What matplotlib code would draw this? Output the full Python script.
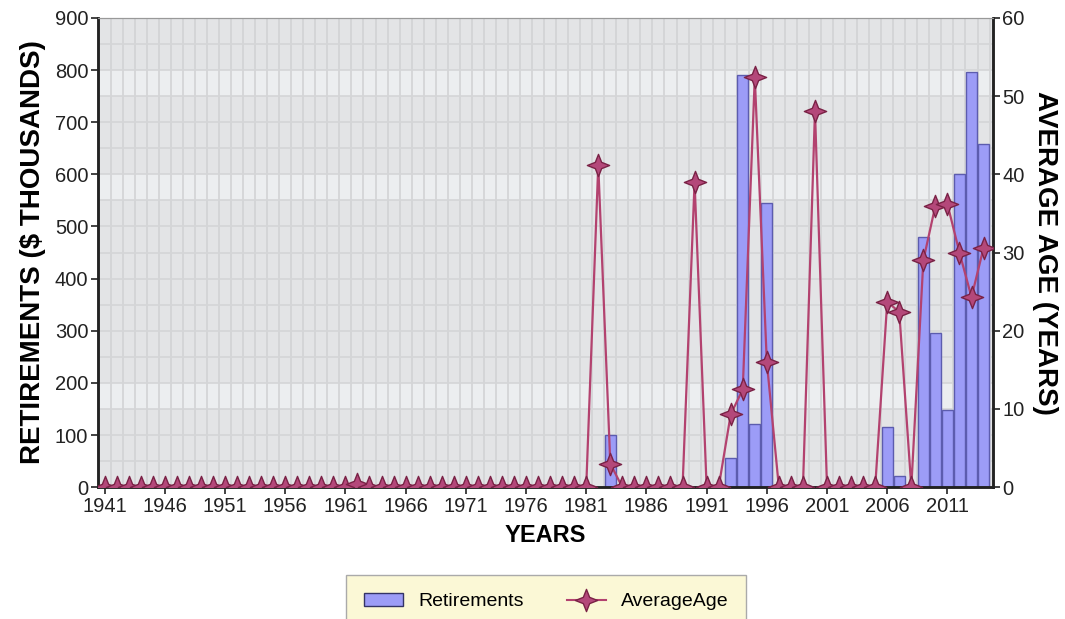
import numpy as np
import matplotlib
matplotlib.use('Agg')
import matplotlib.pyplot as plt
from matplotlib.path import Path

plt.rcParams['font.family'] = ['Liberation Sans', 'DejaVu Sans']

years = list(range(1941, 2015))

# retirements in $ thousands, only non-zero years listed
retire_years = [1983, 1993, 1994, 1995, 1996, 2006, 2007, 2009, 2010, 2011, 2012, 2013, 2014]
retire_vals = [100, 56, 790, 121, 545, 115, 22, 480, 295, 148, 600, 796, 658]

# average age in years, only non-zero years listed
age_years = [1962, 1982, 1983, 1990, 1993, 1994, 1995, 1996, 2000, 2006, 2007, 2009, 2010, 2011, 2012, 2013, 2014]
age_vals = [0.4, 41.2, 3.0, 39.0, 9.3, 12.5, 52.4, 16.0, 48.1, 23.7, 22.4, 29.0, 36.0, 36.2, 30.0, 24.3, 30.6]

retirements = [retire_vals[retire_years.index(y)] if y in retire_years else 0 for y in years]
avg_age = [age_vals[age_years.index(y)] if y in age_years else 0 for y in years]

# 4-pointed star marker
pts = []
for i in range(8):
    ang = np.pi / 2 + i * np.pi / 4
    r = 1.0 if i % 2 == 0 else 0.4
    pts.append((r * np.cos(ang), r * np.sin(ang)))
pts.append(pts[0])
codes = [Path.MOVETO] + [Path.LINETO] * 7 + [Path.CLOSEPOLY]
star = Path(pts, codes)

fig = plt.figure(figsize=(10.65, 6.19), dpi=100)
ax = fig.add_axes([0.092, 0.213, 0.84, 0.758])
ax.set_facecolor('#e3e4e6')

# background stripes / grid
for y in years:
    ax.axvline(y + 0.5, color='#d2d3d5', lw=1.2, zorder=0)
for v in range(50, 900, 50):
    ax.axhline(v, color='#d4d5d7', lw=1.2, zorder=0)
for lo in (750, 550, 150):
    ax.axhspan(lo, lo + 50, color='#eceef0', zorder=-1, lw=0)

ax.bar(years, retirements, width=0.92, color='#9c9cf7', edgecolor='#5c5cae', lw=1, zorder=2)
ax.set_xlim(1940.45, 2014.75)
ax.set_ylim(0, 900)
ax.set_yticks(range(0, 901, 100))
ax.set_xticks(range(1941, 2012, 5))

ax2 = ax.twinx()
ax2.plot(years, avg_age, color='#b3426f', lw=1.6, marker=star, markersize=16,
         markerfacecolor='#b4487a', markeredgecolor='#7a2246', markeredgewidth=1, zorder=3)
ax2.set_ylim(0, 60)
ax2.set_yticks(range(0, 61, 10))

for a in (ax, ax2):
    a.tick_params(labelsize=14.5, colors='#222222', length=5, width=1.2, pad=2)
    for s in ('left', 'right', 'bottom'):
        a.spines[s].set_color('#222222')
        a.spines[s].set_linewidth(1.8)
    a.spines['top'].set_color('#999999')

ax.set_ylabel('RETIREMENTS ($ THOUSANDS)', fontsize=20, fontweight='bold', labelpad=6)
ax2.set_ylabel('AVERAGE AGE (YEARS)', fontsize=20, fontweight='bold', rotation=270, labelpad=24)
ax.set_xlabel('YEARS', fontsize=17, fontweight='bold', labelpad=6)

h1 = plt.Rectangle((0, 0), 1, 1, facecolor='#9c9cf7', edgecolor='#333366')
h2 = plt.Line2D([], [], color='#b3426f', marker=star, markersize=16,
                markerfacecolor='#b4487a', markeredgecolor='#7a2246')
leg = fig.legend([h1, h2], ['Retirements', 'AverageAge'], loc='lower center',
                 bbox_to_anchor=(0.513, -0.03), ncol=2, fontsize=14, frameon=True,
                 facecolor='#fbf8d6', edgecolor='#aaaaaa', fancybox=False,
                 handlelength=2.0, columnspacing=2.2, borderpad=0.9)
leg.get_frame().set_alpha(1)

fig.savefig('out.png', dpi=100)
